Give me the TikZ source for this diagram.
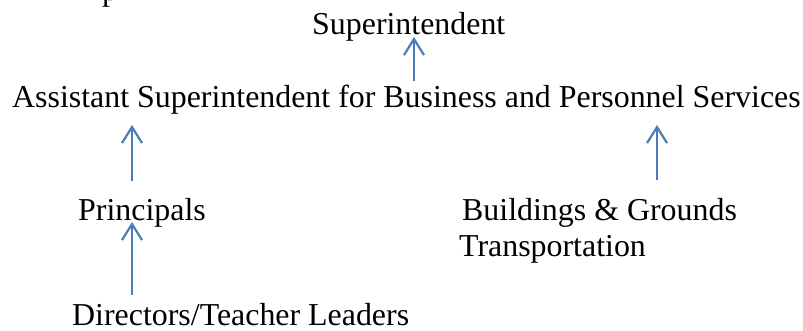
\documentclass[tikz,border=0pt]{standalone}
\usepackage{fontspec}
\setmainfont{Liberation Serif}
\usetikzlibrary{arrows.meta,positioning,calc}
\definecolor{arrblue}{RGB}{74,126,187}
\tikzset{
  lbl/.style={font=\fontsize{31.9}{36}\selectfont, inner sep=0pt, anchor=base west},
  upar/.style={-{Straight Barb[length=16pt, width=20pt]}, arrblue, line width=2.2pt},
}

\begin{document}
\begin{tikzpicture}[x=1pt, y=-1pt]
    \useasboundingbox (0,0) rectangle (803,331);
    \clip (0,0) rectangle (803,331);
    \node[lbl, anchor=base] (cut) at (110,1) {p};
    \node[lbl] (sup) at (312,35) {Superintendent};
    \node[lbl] (asst) at (12,108) {Assistant Superintendent for Business and Personnel Services};
    \node[lbl] (prin) at (78,221) {Principals};
    \node[lbl] (bldg) at (462,221) {Buildings \& Grounds};
    \node[lbl] (trans) at (459,256) {Transportation};
    \node[lbl] (dir) at (72,325) {Directors/Teacher Leaders};
    \coordinate (lcol) at (132,0);
    \coordinate (mcol) at (414,0);
    \coordinate (rcol) at (657,0);
    \draw[upar, shorten <=4pt, shorten >=-5pt] (asst.north -| mcol) -- (sup.south -| mcol);
    \draw[upar, shorten <=18pt, shorten >=10pt] (prin.north -| lcol) -- (asst.south -| lcol);
    \draw[upar, shorten <=19pt, shorten >=10pt] (bldg.north -| rcol) -- (asst.south -| rcol);
    \draw[upar, shorten <=8pt, shorten >=-6pt] (dir.north -| lcol) -- (prin.south -| lcol);
\end{tikzpicture}
\end{document}
